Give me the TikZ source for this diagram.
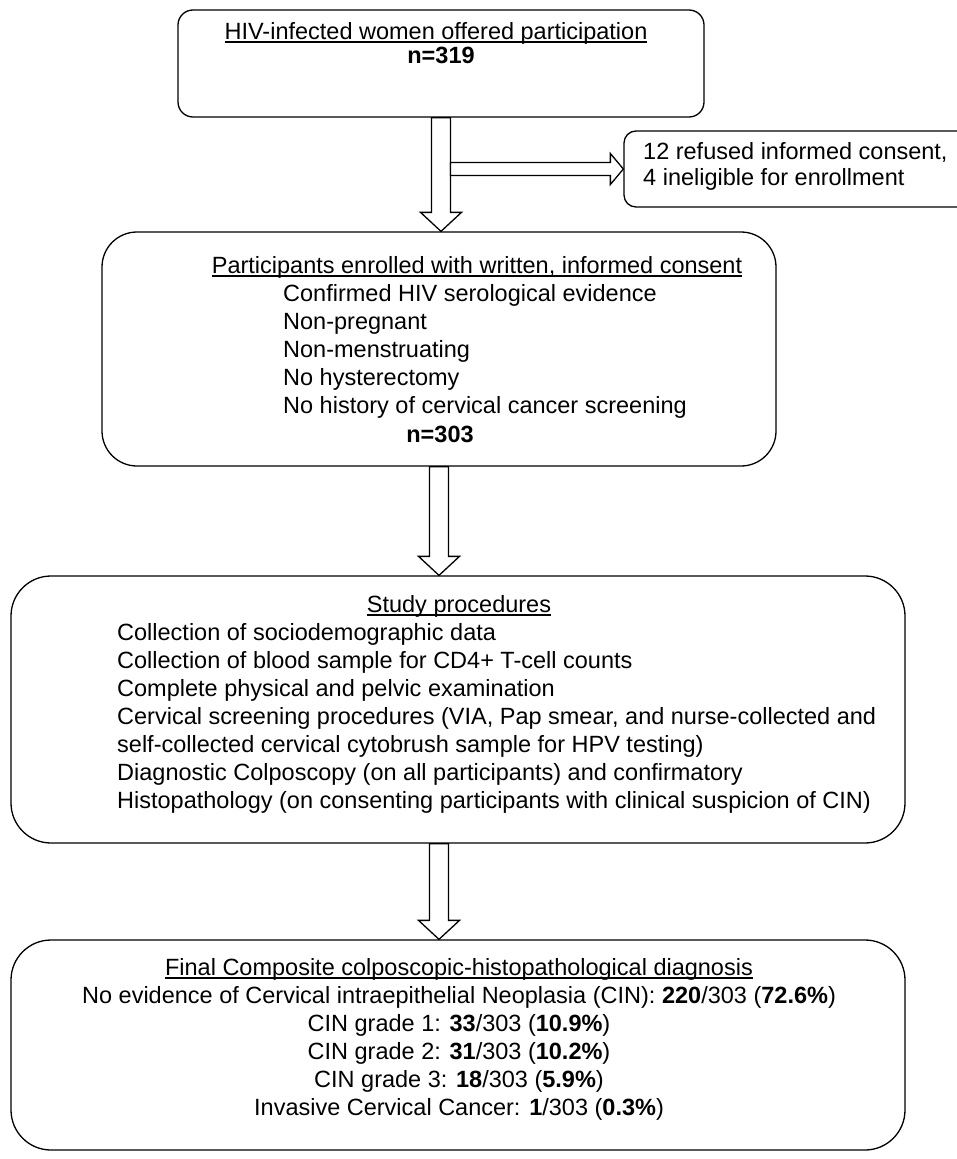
\documentclass[tikz,border=0pt]{standalone}
\usepackage{fontspec}
\setmainfont{Liberation Sans}
\newcommand\undl[1]{\setbox0\hbox{#1}\rlap{\rule[-3.5pt]{\wd0}{1.2pt}}\box0}
\usetikzlibrary{calc,positioning}
\tikzset{
  box/.style={draw,line width=1.3pt,rounded corners=#1,inner sep=0pt},
  box/.default=15pt,
  txt/.style={inner sep=0pt,anchor=base,font=\fontsize{23.5}{28}\selectfont},
  ltxt/.style={txt,anchor=base west},
  fatdown/.style={draw,line width=1.3pt,fill=white,to path={let \p1=(\tikztostart),\p2=(\tikztotarget) in
    (\x1-9.5pt,\y1) -- (\x1-9.5pt,\y2+19pt) -- (\x1-20.5pt,\y2+19pt) -- (\x1,\y2) -- (\x1+20.5pt,\y2+19pt) -- (\x1+9.5pt,\y2+19pt) -- (\x1+9.5pt,\y1) -- cycle}},
  fatright/.style={draw,line width=1.3pt,fill=white,to path={let \p1=(\tikztostart),\p2=(\tikztotarget) in
    (\x1,\y1+6.5pt) -- (\x2-13pt,\y1+6.5pt) -- (\x2-13pt,\y1+15.5pt) -- (\x2,\y1) -- (\x2-13pt,\y1-15.5pt) -- (\x2-13pt,\y1-6.5pt) -- (\x1,\y1-6.5pt) -- cycle}},
}
\begin{document}
\begin{tikzpicture}[x=1pt,y=-1pt]
\fill[white] (0,0) rectangle (957,1159);
\useasboundingbox (0,0) rectangle (957,1159);
\node[box,minimum width=526,minimum height=107] (offer) at (441,63.5) {};
\node[box=12pt,minimum width=376,minimum height=76] (refuse) at (812,169) {};
\node[box=35pt,minimum width=674,minimum height=234] (enrol) at (439,349) {};
\node[box=40pt,minimum width=894,minimum height=267] (proc) at (458,709.5) {};
\node[box=40pt,minimum width=894,minimum height=210] (final) at (458,1045) {};
\node[txt] (offertitle) at (436,39) {\undl{HIV-infected women offered participation}};
\node[txt] (offern) at (441,63) {\textbf{n=319}};
\node[ltxt] (refuse1) at (643,159) {12 refused informed consent,};
\node[ltxt] (refuse2) at (643,185) {4 ineligible for enrollment};
\node[txt] (enroltitle) at (477,273) {\undl{Participants enrolled with written, informed consent}};
\foreach \t [count=\i] in {Confirmed HIV serological evidence,Non-pregnant,Non-menstruating,No hysterectomy,No history of cervical cancer screening}
  \node[ltxt] (incl\i) at (283,273+28*\i) {\t};
\node[txt] (enroln) at (440,442) {\textbf{n=303}};
\node[txt] (proctitle) at (459,612) {\undl{Study procedures}};
\foreach \t [count=\i] in {Collection of sociodemographic data,Collection of blood sample for CD4+ T-cell counts,Complete physical and pelvic examination,{Cervical screening procedures (VIA, Pap smear, and nurse-collected and},self-collected cervical cytobrush sample for HPV testing),Diagnostic Colposcopy (on all participants) and confirmatory,Histopathology (on consenting participants with clinical suspicion of CIN)}
  \node[ltxt] (step\i) at (117,612+28*\i) {\t};
\node[txt] (finaltitle) at (459,975) {\undl{Final Composite colposcopic-histopathological diagnosis}};
\foreach \t [count=\i] in {{No evidence of Cervical intraepithelial Neoplasia (CIN): \textbf{220}/303 (\textbf{72.6\%})},{CIN grade 1: \textbf{33}/303 (\textbf{10.9\%})},{CIN grade 2: \textbf{31}/303 (\textbf{10.2\%})},{CIN grade 3: \textbf{18}/303 (\textbf{5.9\%})},{Invasive Cervical Cancer: \textbf{1}/303 (\textbf{0.3\%})}}
  \node[txt] (dx\i) at (459,975+28*\i) {\t};
\draw[fatdown] (offer.south) to (offer.south |- enrol.north);
\draw[fatright] ($(offer.south |- refuse.west)+(9.5,0)$) to (refuse.west);
\draw[fatdown] (enrol.south) to (enrol.south |- proc.north);
\draw[fatdown] (enrol.south |- proc.south) to (enrol.south |- final.north);
\end{tikzpicture}
\end{document}
